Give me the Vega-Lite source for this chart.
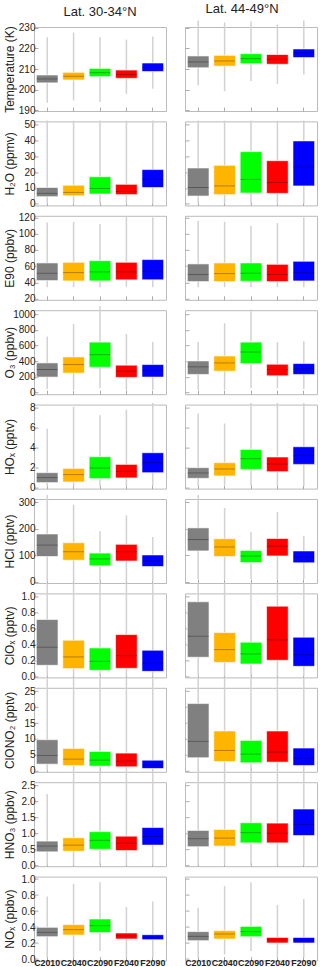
{
"$schema":"https://vega.github.io/schema/vega-lite/v6.json",
"padding":{"left":2,"top":2,"right":0,"bottom":0},
"config":{"font":"Liberation Sans","view":{"stroke":"#bbbbbb","strokeWidth":1},
"range":{"category":["#808080","#ffb400","#00ff00","#ff0000","#0000ff"]},
"axis":{"domain":false,"tickColor":"#aaaaaa","tickSize":-4,"grid":false,"labelColor":"#222222","labelFontSize":10,"labelOverlap":false,"titleColor":"#222222","titleFontSize":12,"titleFontWeight":"normal"},
"axisY":{"labelPadding":3,"titleX":-18,"titleBaseline":"bottom","labelFontSize":10,"labelOverlap":false},
"axisX":{"labelAngle":0,"labelFontWeight":"bold","labelPadding":2,"labelFontSize":8.8,"labelOverlap":false},
"title":{"fontSize":13,"fontWeight":"normal","color":"#222222","offset":4,"frame":"group"}},
"data":{"values":[
{"v":"T","lat":"S","s":"C2010","lo":193.7,"q1":203.3,"md":205.2,"q3":207.1,"hi":225.3},
{"v":"T","lat":"S","s":"C2040","lo":194.8,"q1":204.7,"md":206.5,"q3":208.4,"hi":227.6},
{"v":"T","lat":"S","s":"C2090","lo":194.1,"q1":206.3,"md":208.2,"q3":210.3,"hi":225.3},
{"v":"T","lat":"S","s":"F2040","lo":197.9,"q1":205.5,"md":207.4,"q3":209.5,"hi":224.2},
{"v":"T","lat":"S","s":"F2090","lo":200.5,"q1":208.8,"md":210.7,"q3":212.9,"hi":225.7},
{"v":"T","lat":"N","s":"C2010","lo":202,"q1":210.6,"md":213.4,"q3":216.3,"hi":233.5},
{"v":"T","lat":"N","s":"C2040","lo":199.2,"q1":211.4,"md":213.9,"q3":216.6,"hi":232.5},
{"v":"T","lat":"N","s":"C2090","lo":204.2,"q1":212.6,"md":215,"q3":217.4,"hi":233},
{"v":"T","lat":"N","s":"F2040","lo":202.8,"q1":212.3,"md":214.7,"q3":217,"hi":231.5},
{"v":"T","lat":"N","s":"F2090","lo":207.4,"q1":215.5,"md":217.8,"q3":219.7,"hi":233.5},
{"v":"W","lat":"S","s":"C2010","lo":0,"q1":4.5,"md":6.6,"q3":10.3,"hi":52.5},
{"v":"W","lat":"S","s":"C2040","lo":0,"q1":5.1,"md":7.2,"q3":11.7,"hi":52.5},
{"v":"W","lat":"S","s":"C2090","lo":0,"q1":6.2,"md":9.7,"q3":17.1,"hi":52.5},
{"v":"W","lat":"S","s":"F2040","lo":0,"q1":5.8,"md":7.8,"q3":12.3,"hi":52.5},
{"v":"W","lat":"S","s":"F2090","lo":0,"q1":10.3,"md":15.4,"q3":21.6,"hi":52.5},
{"v":"W","lat":"N","s":"C2010","lo":0,"q1":4.9,"md":10.3,"q3":22.6,"hi":52.5},
{"v":"W","lat":"N","s":"C2040","lo":0,"q1":5.8,"md":11.3,"q3":24.3,"hi":52.5},
{"v":"W","lat":"N","s":"C2090","lo":0,"q1":6.8,"md":15.4,"q3":32.9,"hi":52.5},
{"v":"W","lat":"N","s":"F2040","lo":0,"q1":6.6,"md":13.4,"q3":27.2,"hi":52.5},
{"v":"W","lat":"N","s":"F2090","lo":0,"q1":11.3,"md":23.3,"q3":39.7,"hi":52.5},
{"v":"E","lat":"S","s":"C2010","lo":34.3,"q1":42.4,"md":51.4,"q3":64.1,"hi":113.9},
{"v":"E","lat":"S","s":"C2040","lo":34.3,"q1":42,"md":52.2,"q3":64.9,"hi":114.7},
{"v":"E","lat":"S","s":"C2090","lo":34.3,"q1":42,"md":53.1,"q3":66.9,"hi":111.8},
{"v":"E","lat":"S","s":"F2040","lo":34.3,"q1":43.3,"md":53.1,"q3":64.9,"hi":121},
{"v":"E","lat":"S","s":"F2090","lo":34.3,"q1":43.3,"md":53.9,"q3":68.2,"hi":120},
{"v":"E","lat":"N","s":"C2010","lo":34.3,"q1":41.2,"md":49.8,"q3":62.9,"hi":115.9},
{"v":"E","lat":"N","s":"C2040","lo":34.3,"q1":41.2,"md":51,"q3":64.1,"hi":114.7},
{"v":"E","lat":"N","s":"C2090","lo":34.3,"q1":41.6,"md":51.4,"q3":64.1,"hi":109.8},
{"v":"E","lat":"N","s":"F2040","lo":34.3,"q1":41.2,"md":49.8,"q3":62.4,"hi":113.1},
{"v":"E","lat":"N","s":"F2090","lo":34.3,"q1":42,"md":52.2,"q3":66.1,"hi":120},
{"v":"O","lat":"S","s":"C2010","lo":46,"q1":197,"md":294,"q3":378,"hi":714},
{"v":"O","lat":"S","s":"C2040","lo":34,"q1":248,"md":357,"q3":454,"hi":874},
{"v":"O","lat":"S","s":"C2090","lo":55,"q1":323,"md":483,"q3":643,"hi":1105},
{"v":"O","lat":"S","s":"F2040","lo":25,"q1":193,"md":273,"q3":349,"hi":748},
{"v":"O","lat":"S","s":"F2090","lo":34,"q1":197,"md":286,"q3":357,"hi":643},
{"v":"O","lat":"N","s":"C2010","lo":34,"q1":231,"md":328,"q3":403,"hi":643},
{"v":"O","lat":"N","s":"C2040","lo":34,"q1":273,"md":378,"q3":466,"hi":882},
{"v":"O","lat":"N","s":"C2090","lo":55,"q1":370,"md":517,"q3":643,"hi":1060},
{"v":"O","lat":"N","s":"F2040","lo":55,"q1":214,"md":294,"q3":361,"hi":643},
{"v":"O","lat":"N","s":"F2090","lo":46,"q1":231,"md":302,"q3":370,"hi":655},
{"v":"H","lat":"S","s":"C2010","lo":0.1,"q1":0.5,"md":1.0,"q3":1.5,"hi":5.9},
{"v":"H","lat":"S","s":"C2040","lo":0.1,"q1":0.57,"md":1.3,"q3":1.93,"hi":8.1},
{"v":"H","lat":"S","s":"C2090","lo":0.1,"q1":0.9,"md":1.97,"q3":3.1,"hi":7.27},
{"v":"H","lat":"S","s":"F2040","lo":0.15,"q1":0.97,"md":1.63,"q3":2.33,"hi":7.83},
{"v":"H","lat":"S","s":"F2090","lo":0.15,"q1":1.5,"md":2.5,"q3":3.5,"hi":8.5},
{"v":"H","lat":"N","s":"C2010","lo":0.15,"q1":0.93,"md":1.47,"q3":2.0,"hi":7.43},
{"v":"H","lat":"N","s":"C2040","lo":0.15,"q1":1.17,"md":1.87,"q3":2.5,"hi":6.43},
{"v":"H","lat":"N","s":"C2090","lo":0.15,"q1":1.83,"md":2.9,"q3":3.83,"hi":8.5},
{"v":"H","lat":"N","s":"F2040","lo":0.15,"q1":1.6,"md":2.37,"q3":3.07,"hi":8.5},
{"v":"H","lat":"N","s":"F2090","lo":0.15,"q1":2.33,"md":3.23,"q3":4.1,"hi":8.5},
{"v":"C","lat":"S","s":"C2010","lo":0,"q1":95,"md":138,"q3":180,"hi":327},
{"v":"C","lat":"S","s":"C2040","lo":0,"q1":81,"md":113,"q3":147,"hi":290},
{"v":"C","lat":"S","s":"C2090","lo":0,"q1":60,"md":86,"q3":108,"hi":190},
{"v":"C","lat":"S","s":"F2040","lo":0,"q1":78,"md":113,"q3":141,"hi":250},
{"v":"C","lat":"S","s":"F2090","lo":0,"q1":57,"md":78,"q3":101,"hi":169},
{"v":"C","lat":"N","s":"C2010","lo":10,"q1":116,"md":159,"q3":203,"hi":327},
{"v":"C","lat":"N","s":"C2040","lo":10,"q1":95,"md":131,"q3":162,"hi":278},
{"v":"C","lat":"N","s":"C2090","lo":10,"q1":72,"md":97,"q3":118,"hi":187},
{"v":"C","lat":"N","s":"F2040","lo":10,"q1":97,"md":134,"q3":163,"hi":263},
{"v":"C","lat":"N","s":"F2090","lo":10,"q1":71,"md":93,"q3":116,"hi":172},
{"v":"X","lat":"S","s":"C2010","lo":0,"q1":0.139,"md":0.366,"q3":0.714,"hi":1.17},
{"v":"X","lat":"S","s":"C2040","lo":0,"q1":0.097,"md":0.244,"q3":0.454,"hi":1.17},
{"v":"X","lat":"S","s":"C2090","lo":0,"q1":0.076,"md":0.189,"q3":0.357,"hi":1.17},
{"v":"X","lat":"S","s":"F2040","lo":0,"q1":0.101,"md":0.26,"q3":0.525,"hi":1.17},
{"v":"X","lat":"S","s":"F2090","lo":0,"q1":0.063,"md":0.164,"q3":0.328,"hi":1.17},
{"v":"X","lat":"N","s":"C2010","lo":0,"q1":0.24,"md":0.504,"q3":0.937,"hi":1.17},
{"v":"X","lat":"N","s":"C2040","lo":0,"q1":0.176,"md":0.336,"q3":0.55,"hi":1.17},
{"v":"X","lat":"N","s":"C2090","lo":0,"q1":0.155,"md":0.282,"q3":0.429,"hi":1.17},
{"v":"X","lat":"N","s":"F2040","lo":0,"q1":0.202,"md":0.458,"q3":0.882,"hi":1.17},
{"v":"X","lat":"N","s":"F2090","lo":0,"q1":0.126,"md":0.273,"q3":0.492,"hi":1.17},
{"v":"N2","lat":"S","s":"C2010","lo":0,"q1":2.1,"md":4.83,"q3":9.77,"hi":29},
{"v":"N2","lat":"S","s":"C2040","lo":0,"q1":1.68,"md":3.68,"q3":7.04,"hi":29},
{"v":"N2","lat":"S","s":"C2090","lo":0,"q1":1.47,"md":3.36,"q3":6.09,"hi":29},
{"v":"N2","lat":"S","s":"F2040","lo":0,"q1":1.26,"md":3.05,"q3":5.57,"hi":29},
{"v":"N2","lat":"S","s":"F2090","lo":0,"q1":0.74,"md":1.8,"q3":3.36,"hi":29},
{"v":"N2","lat":"N","s":"C2010","lo":0,"q1":4.1,"md":9.24,"q3":21.1,"hi":29},
{"v":"N2","lat":"N","s":"C2040","lo":0,"q1":2.94,"md":6.4,"q3":12.5,"hi":29},
{"v":"N2","lat":"N","s":"C2090","lo":0,"q1":2.52,"md":5.25,"q3":9.56,"hi":29},
{"v":"N2","lat":"N","s":"F2040","lo":0,"q1":2.73,"md":5.88,"q3":12.5,"hi":29},
{"v":"N2","lat":"N","s":"F2090","lo":0,"q1":1.68,"md":4.0,"q3":7.14,"hi":29},
{"v":"HN","lat":"S","s":"C2010","lo":0,"q1":0.42,"md":0.6,"q3":0.756,"hi":2.23},
{"v":"HN","lat":"S","s":"C2040","lo":0,"q1":0.44,"md":0.63,"q3":0.86,"hi":2.95},
{"v":"HN","lat":"S","s":"C2090","lo":0,"q1":0.5,"md":0.78,"q3":1.05,"hi":2.95},
{"v":"HN","lat":"S","s":"F2040","lo":0,"q1":0.46,"md":0.69,"q3":0.91,"hi":2.95},
{"v":"HN","lat":"S","s":"F2090","lo":0,"q1":0.63,"md":0.9,"q3":1.18,"hi":2.95},
{"v":"HN","lat":"N","s":"C2010","lo":0,"q1":0.58,"md":0.83,"q3":1.09,"hi":2.95},
{"v":"HN","lat":"N","s":"C2040","lo":0,"q1":0.6,"md":0.85,"q3":1.12,"hi":2.95},
{"v":"HN","lat":"N","s":"C2090","lo":0,"q1":0.7,"md":1.02,"q3":1.33,"hi":2.95},
{"v":"HN","lat":"N","s":"F2040","lo":0,"q1":0.7,"md":1.0,"q3":1.32,"hi":2.95},
{"v":"HN","lat":"N","s":"F2090","lo":0,"q1":0.93,"md":1.28,"q3":1.76,"hi":2.95},
{"v":"NX","lat":"S","s":"C2010","lo":0.02,"q1":0.279,"md":0.333,"q3":0.396,"hi":0.78},
{"v":"NX","lat":"S","s":"C2040","lo":0.02,"q1":0.3,"md":0.367,"q3":0.43,"hi":0.94},
{"v":"NX","lat":"S","s":"C2090","lo":0.1,"q1":0.33,"md":0.417,"q3":0.5,"hi":0.96},
{"v":"NX","lat":"S","s":"F2040","lo":0.02,"q1":0.25,"md":0.29,"q3":0.325,"hi":0.65},
{"v":"NX","lat":"S","s":"F2090","lo":0.02,"q1":0.242,"md":0.27,"q3":0.304,"hi":0.72},
{"v":"NX","lat":"N","s":"C2010","lo":0.02,"q1":0.229,"md":0.283,"q3":0.342,"hi":0.64},
{"v":"NX","lat":"N","s":"C2040","lo":0.06,"q1":0.25,"md":0.313,"q3":0.354,"hi":0.91},
{"v":"NX","lat":"N","s":"C2090","lo":0.1,"q1":0.279,"md":0.342,"q3":0.408,"hi":0.96},
{"v":"NX","lat":"N","s":"F2040","lo":0.02,"q1":0.2,"md":0.24,"q3":0.27,"hi":0.675},
{"v":"NX","lat":"N","s":"F2090","lo":0.02,"q1":0.2,"md":0.24,"q3":0.27,"hi":0.75}
]},
"columns":2,
"spacing":{"row":10.4,"column":19},
"bounds":"flush",
"concat":[
{"title":{"text":"Lat. 30-34°N"},"width":132,"height":84,"transform":[{"filter":"datum.v=='T'&&datum.lat=='S'"}],"encoding":{"x":{"field":"s","type":"nominal","scale":{"paddingInner":0.18,"paddingOuter":0.09},"axis":{"labels":false,"title":null}}},"layer":[
{"mark":{"type":"rule","color":"#d2d2d2","strokeWidth":1.5},"encoding":{"y":{"field":"lo","type":"quantitative","scale":{"domain":[189.7,230.3],"nice":false,"zero":false},"axis":{"title":"Temperature (K)","format":"d","tickCount":20,"values":[190,200,210,220,230]}},"y2":{"field":"hi"}}},
{"mark":{"type":"bar","stroke":"white","strokeOpacity":0.6,"strokeWidth":1},"encoding":{"y":{"field":"q1","type":"quantitative"},"y2":{"field":"q3"},"color":{"field":"s","type":"nominal","legend":null}}},
{"mark":{"type":"tick","color":"black","opacity":0.3,"size":21,"thickness":1},"encoding":{"y":{"field":"md","type":"quantitative"}}}]},
{"title":{"text":"Lat. 44-49°N","dx":-9},"width":132,"height":84,"transform":[{"filter":"datum.v=='T'&&datum.lat=='N'"}],"encoding":{"x":{"field":"s","type":"nominal","scale":{"paddingInner":0.18,"paddingOuter":0.09},"axis":{"labels":false,"title":null}}},"layer":[
{"mark":{"type":"rule","color":"#d2d2d2","strokeWidth":1.5},"encoding":{"y":{"field":"lo","type":"quantitative","scale":{"domain":[189.7,230.3],"nice":false,"zero":false},"axis":{"title":null,"labels":false,"tickCount":20,"values":[190,200,210,220,230]}},"y2":{"field":"hi"}}},
{"mark":{"type":"bar","stroke":"white","strokeOpacity":0.6,"strokeWidth":1},"encoding":{"y":{"field":"q1","type":"quantitative"},"y2":{"field":"q3"},"color":{"field":"s","type":"nominal","legend":null}}},
{"mark":{"type":"tick","color":"black","opacity":0.3,"size":21,"thickness":1},"encoding":{"y":{"field":"md","type":"quantitative"}}}]},
{"width":132,"height":84,"transform":[{"filter":"datum.v=='W'&&datum.lat=='S'"}],"encoding":{"x":{"field":"s","type":"nominal","scale":{"paddingInner":0.18,"paddingOuter":0.09},"axis":{"labels":false,"title":null}}},"layer":[
{"mark":{"type":"rule","color":"#d2d2d2","strokeWidth":1.5},"encoding":{"y":{"field":"lo","type":"quantitative","scale":{"domain":[-1,52],"nice":false,"zero":false},"axis":{"title":"H₂O (ppmv)","format":"d","tickCount":20,"values":[0,10,20,30,40,50]}},"y2":{"field":"hi"}}},
{"mark":{"type":"bar","stroke":"white","strokeOpacity":0.6,"strokeWidth":1},"encoding":{"y":{"field":"q1","type":"quantitative"},"y2":{"field":"q3"},"color":{"field":"s","type":"nominal","legend":null}}},
{"mark":{"type":"tick","color":"black","opacity":0.3,"size":21,"thickness":1},"encoding":{"y":{"field":"md","type":"quantitative"}}}]},
{"width":132,"height":84,"transform":[{"filter":"datum.v=='W'&&datum.lat=='N'"}],"encoding":{"x":{"field":"s","type":"nominal","scale":{"paddingInner":0.18,"paddingOuter":0.09},"axis":{"labels":false,"title":null}}},"layer":[
{"mark":{"type":"rule","color":"#d2d2d2","strokeWidth":1.5},"encoding":{"y":{"field":"lo","type":"quantitative","scale":{"domain":[-1,52],"nice":false,"zero":false},"axis":{"title":null,"labels":false,"tickCount":20,"values":[0,10,20,30,40,50]}},"y2":{"field":"hi"}}},
{"mark":{"type":"bar","stroke":"white","strokeOpacity":0.6,"strokeWidth":1},"encoding":{"y":{"field":"q1","type":"quantitative"},"y2":{"field":"q3"},"color":{"field":"s","type":"nominal","legend":null}}},
{"mark":{"type":"tick","color":"black","opacity":0.3,"size":21,"thickness":1},"encoding":{"y":{"field":"md","type":"quantitative"}}}]},
{"width":132,"height":84,"transform":[{"filter":"datum.v=='E'&&datum.lat=='S'"}],"encoding":{"x":{"field":"s","type":"nominal","scale":{"paddingInner":0.18,"paddingOuter":0.09},"axis":{"labels":false,"title":null}}},"layer":[
{"mark":{"type":"rule","color":"#d2d2d2","strokeWidth":1.5},"encoding":{"y":{"field":"lo","type":"quantitative","scale":{"domain":[18.8,122],"nice":false,"zero":false},"axis":{"title":"E90 (ppbv)","format":"d","tickCount":20,"values":[20,40,60,80,100,120]}},"y2":{"field":"hi"}}},
{"mark":{"type":"bar","stroke":"white","strokeOpacity":0.6,"strokeWidth":1},"encoding":{"y":{"field":"q1","type":"quantitative"},"y2":{"field":"q3"},"color":{"field":"s","type":"nominal","legend":null}}},
{"mark":{"type":"tick","color":"black","opacity":0.3,"size":21,"thickness":1},"encoding":{"y":{"field":"md","type":"quantitative"}}}]},
{"width":132,"height":84,"transform":[{"filter":"datum.v=='E'&&datum.lat=='N'"}],"encoding":{"x":{"field":"s","type":"nominal","scale":{"paddingInner":0.18,"paddingOuter":0.09},"axis":{"labels":false,"title":null}}},"layer":[
{"mark":{"type":"rule","color":"#d2d2d2","strokeWidth":1.5},"encoding":{"y":{"field":"lo","type":"quantitative","scale":{"domain":[18.8,122],"nice":false,"zero":false},"axis":{"title":null,"labels":false,"tickCount":20,"values":[20,40,60,80,100,120]}},"y2":{"field":"hi"}}},
{"mark":{"type":"bar","stroke":"white","strokeOpacity":0.6,"strokeWidth":1},"encoding":{"y":{"field":"q1","type":"quantitative"},"y2":{"field":"q3"},"color":{"field":"s","type":"nominal","legend":null}}},
{"mark":{"type":"tick","color":"black","opacity":0.3,"size":21,"thickness":1},"encoding":{"y":{"field":"md","type":"quantitative"}}}]},
{"width":132,"height":84,"transform":[{"filter":"datum.v=='O'&&datum.lat=='S'"}],"encoding":{"x":{"field":"s","type":"nominal","scale":{"paddingInner":0.18,"paddingOuter":0.09},"axis":{"labels":false,"title":null}}},"layer":[
{"mark":{"type":"rule","color":"#d2d2d2","strokeWidth":1.5},"encoding":{"y":{"field":"lo","type":"quantitative","scale":{"domain":[-21,1050],"nice":false,"zero":false},"axis":{"title":"O₃ (ppbv)","format":"d","tickCount":20,"values":[0,200,400,600,800,1000]}},"y2":{"field":"hi"}}},
{"mark":{"type":"bar","stroke":"white","strokeOpacity":0.6,"strokeWidth":1},"encoding":{"y":{"field":"q1","type":"quantitative"},"y2":{"field":"q3"},"color":{"field":"s","type":"nominal","legend":null}}},
{"mark":{"type":"tick","color":"black","opacity":0.3,"size":21,"thickness":1},"encoding":{"y":{"field":"md","type":"quantitative"}}}]},
{"width":132,"height":84,"transform":[{"filter":"datum.v=='O'&&datum.lat=='N'"}],"encoding":{"x":{"field":"s","type":"nominal","scale":{"paddingInner":0.18,"paddingOuter":0.09},"axis":{"labels":false,"title":null}}},"layer":[
{"mark":{"type":"rule","color":"#d2d2d2","strokeWidth":1.5},"encoding":{"y":{"field":"lo","type":"quantitative","scale":{"domain":[-21,1050],"nice":false,"zero":false},"axis":{"title":null,"labels":false,"tickCount":20,"values":[0,200,400,600,800,1000]}},"y2":{"field":"hi"}}},
{"mark":{"type":"bar","stroke":"white","strokeOpacity":0.6,"strokeWidth":1},"encoding":{"y":{"field":"q1","type":"quantitative"},"y2":{"field":"q3"},"color":{"field":"s","type":"nominal","legend":null}}},
{"mark":{"type":"tick","color":"black","opacity":0.3,"size":21,"thickness":1},"encoding":{"y":{"field":"md","type":"quantitative"}}}]},
{"width":132,"height":84,"transform":[{"filter":"datum.v=='H'&&datum.lat=='S'"}],"encoding":{"x":{"field":"s","type":"nominal","scale":{"paddingInner":0.18,"paddingOuter":0.09},"axis":{"labels":false,"title":null}}},"layer":[
{"mark":{"type":"rule","color":"#d2d2d2","strokeWidth":1.5},"encoding":{"y":{"field":"lo","type":"quantitative","scale":{"domain":[-0.1,8.33],"nice":false,"zero":false},"axis":{"title":"HOₓ (pptv)","format":"d","tickCount":20,"values":[0,2,4,6,8]}},"y2":{"field":"hi"}}},
{"mark":{"type":"bar","stroke":"white","strokeOpacity":0.6,"strokeWidth":1},"encoding":{"y":{"field":"q1","type":"quantitative"},"y2":{"field":"q3"},"color":{"field":"s","type":"nominal","legend":null}}},
{"mark":{"type":"tick","color":"black","opacity":0.3,"size":21,"thickness":1},"encoding":{"y":{"field":"md","type":"quantitative"}}}]},
{"width":132,"height":84,"transform":[{"filter":"datum.v=='H'&&datum.lat=='N'"}],"encoding":{"x":{"field":"s","type":"nominal","scale":{"paddingInner":0.18,"paddingOuter":0.09},"axis":{"labels":false,"title":null}}},"layer":[
{"mark":{"type":"rule","color":"#d2d2d2","strokeWidth":1.5},"encoding":{"y":{"field":"lo","type":"quantitative","scale":{"domain":[-0.1,8.33],"nice":false,"zero":false},"axis":{"title":null,"labels":false,"tickCount":20,"values":[0,2,4,6,8]}},"y2":{"field":"hi"}}},
{"mark":{"type":"bar","stroke":"white","strokeOpacity":0.6,"strokeWidth":1},"encoding":{"y":{"field":"q1","type":"quantitative"},"y2":{"field":"q3"},"color":{"field":"s","type":"nominal","legend":null}}},
{"mark":{"type":"tick","color":"black","opacity":0.3,"size":21,"thickness":1},"encoding":{"y":{"field":"md","type":"quantitative"}}}]},
{"width":132,"height":84,"transform":[{"filter":"datum.v=='C'&&datum.lat=='S'"}],"encoding":{"x":{"field":"s","type":"nominal","scale":{"paddingInner":0.18,"paddingOuter":0.09},"axis":{"labels":false,"title":null}}},"layer":[
{"mark":{"type":"rule","color":"#d2d2d2","strokeWidth":1.5},"encoding":{"y":{"field":"lo","type":"quantitative","scale":{"domain":[-5,312],"nice":false,"zero":false},"axis":{"title":"HCl (pptv)","format":"d","tickCount":20,"values":[0,100,200,300]}},"y2":{"field":"hi"}}},
{"mark":{"type":"bar","stroke":"white","strokeOpacity":0.6,"strokeWidth":1},"encoding":{"y":{"field":"q1","type":"quantitative"},"y2":{"field":"q3"},"color":{"field":"s","type":"nominal","legend":null}}},
{"mark":{"type":"tick","color":"black","opacity":0.3,"size":21,"thickness":1},"encoding":{"y":{"field":"md","type":"quantitative"}}}]},
{"width":132,"height":84,"transform":[{"filter":"datum.v=='C'&&datum.lat=='N'"}],"encoding":{"x":{"field":"s","type":"nominal","scale":{"paddingInner":0.18,"paddingOuter":0.09},"axis":{"labels":false,"title":null}}},"layer":[
{"mark":{"type":"rule","color":"#d2d2d2","strokeWidth":1.5},"encoding":{"y":{"field":"lo","type":"quantitative","scale":{"domain":[-5,312],"nice":false,"zero":false},"axis":{"title":null,"labels":false,"tickCount":20,"values":[0,100,200,300]}},"y2":{"field":"hi"}}},
{"mark":{"type":"bar","stroke":"white","strokeOpacity":0.6,"strokeWidth":1},"encoding":{"y":{"field":"q1","type":"quantitative"},"y2":{"field":"q3"},"color":{"field":"s","type":"nominal","legend":null}}},
{"mark":{"type":"tick","color":"black","opacity":0.3,"size":21,"thickness":1},"encoding":{"y":{"field":"md","type":"quantitative"}}}]},
{"width":132,"height":84,"transform":[{"filter":"datum.v=='X'&&datum.lat=='S'"}],"encoding":{"x":{"field":"s","type":"nominal","scale":{"paddingInner":0.18,"paddingOuter":0.09},"axis":{"labels":false,"title":null}}},"layer":[
{"mark":{"type":"rule","color":"#d2d2d2","strokeWidth":1.5},"encoding":{"y":{"field":"lo","type":"quantitative","scale":{"domain":[-0.013,1.042],"nice":false,"zero":false},"axis":{"title":"ClOₓ (pptv)","tickCount":20,"format":".1f","values":[0,0.2,0.4,0.6,0.8,1.0]}},"y2":{"field":"hi"}}},
{"mark":{"type":"bar","stroke":"white","strokeOpacity":0.6,"strokeWidth":1},"encoding":{"y":{"field":"q1","type":"quantitative"},"y2":{"field":"q3"},"color":{"field":"s","type":"nominal","legend":null}}},
{"mark":{"type":"tick","color":"black","opacity":0.3,"size":21,"thickness":1},"encoding":{"y":{"field":"md","type":"quantitative"}}}]},
{"width":132,"height":84,"transform":[{"filter":"datum.v=='X'&&datum.lat=='N'"}],"encoding":{"x":{"field":"s","type":"nominal","scale":{"paddingInner":0.18,"paddingOuter":0.09},"axis":{"labels":false,"title":null}}},"layer":[
{"mark":{"type":"rule","color":"#d2d2d2","strokeWidth":1.5},"encoding":{"y":{"field":"lo","type":"quantitative","scale":{"domain":[-0.013,1.042],"nice":false,"zero":false},"axis":{"title":null,"labels":false,"tickCount":20,"values":[0,0.2,0.4,0.6,0.8,1.0]}},"y2":{"field":"hi"}}},
{"mark":{"type":"bar","stroke":"white","strokeOpacity":0.6,"strokeWidth":1},"encoding":{"y":{"field":"q1","type":"quantitative"},"y2":{"field":"q3"},"color":{"field":"s","type":"nominal","legend":null}}},
{"mark":{"type":"tick","color":"black","opacity":0.3,"size":21,"thickness":1},"encoding":{"y":{"field":"md","type":"quantitative"}}}]},
{"width":132,"height":84,"transform":[{"filter":"datum.v=='N2'&&datum.lat=='S'"}],"encoding":{"x":{"field":"s","type":"nominal","scale":{"paddingInner":0.18,"paddingOuter":0.09},"axis":{"labels":false,"title":null}}},"layer":[
{"mark":{"type":"rule","color":"#d2d2d2","strokeWidth":1.5},"encoding":{"y":{"field":"lo","type":"quantitative","scale":{"domain":[-0.3,26.05],"nice":false,"zero":false},"axis":{"title":"ClONO₂ (pptv)","format":"d","tickCount":20,"values":[0,5,10,15,20,25]}},"y2":{"field":"hi"}}},
{"mark":{"type":"bar","stroke":"white","strokeOpacity":0.6,"strokeWidth":1},"encoding":{"y":{"field":"q1","type":"quantitative"},"y2":{"field":"q3"},"color":{"field":"s","type":"nominal","legend":null}}},
{"mark":{"type":"tick","color":"black","opacity":0.3,"size":21,"thickness":1},"encoding":{"y":{"field":"md","type":"quantitative"}}}]},
{"width":132,"height":84,"transform":[{"filter":"datum.v=='N2'&&datum.lat=='N'"}],"encoding":{"x":{"field":"s","type":"nominal","scale":{"paddingInner":0.18,"paddingOuter":0.09},"axis":{"labels":false,"title":null}}},"layer":[
{"mark":{"type":"rule","color":"#d2d2d2","strokeWidth":1.5},"encoding":{"y":{"field":"lo","type":"quantitative","scale":{"domain":[-0.3,26.05],"nice":false,"zero":false},"axis":{"title":null,"labels":false,"tickCount":20,"values":[0,5,10,15,20,25]}},"y2":{"field":"hi"}}},
{"mark":{"type":"bar","stroke":"white","strokeOpacity":0.6,"strokeWidth":1},"encoding":{"y":{"field":"q1","type":"quantitative"},"y2":{"field":"q3"},"color":{"field":"s","type":"nominal","legend":null}}},
{"mark":{"type":"tick","color":"black","opacity":0.3,"size":21,"thickness":1},"encoding":{"y":{"field":"md","type":"quantitative"}}}]},
{"width":132,"height":84,"transform":[{"filter":"datum.v=='HN'&&datum.lat=='S'"}],"encoding":{"x":{"field":"s","type":"nominal","scale":{"paddingInner":0.18,"paddingOuter":0.09},"axis":{"labels":false,"title":null}}},"layer":[
{"mark":{"type":"rule","color":"#d2d2d2","strokeWidth":1.5},"encoding":{"y":{"field":"lo","type":"quantitative","scale":{"domain":[-0.03,2.6],"nice":false,"zero":false},"axis":{"title":"HNO₃ (ppbv)","tickCount":20,"format":".1f","values":[0,0.5,1.0,1.5,2.0,2.5]}},"y2":{"field":"hi"}}},
{"mark":{"type":"bar","stroke":"white","strokeOpacity":0.6,"strokeWidth":1},"encoding":{"y":{"field":"q1","type":"quantitative"},"y2":{"field":"q3"},"color":{"field":"s","type":"nominal","legend":null}}},
{"mark":{"type":"tick","color":"black","opacity":0.3,"size":21,"thickness":1},"encoding":{"y":{"field":"md","type":"quantitative"}}}]},
{"width":132,"height":84,"transform":[{"filter":"datum.v=='HN'&&datum.lat=='N'"}],"encoding":{"x":{"field":"s","type":"nominal","scale":{"paddingInner":0.18,"paddingOuter":0.09},"axis":{"labels":false,"title":null}}},"layer":[
{"mark":{"type":"rule","color":"#d2d2d2","strokeWidth":1.5},"encoding":{"y":{"field":"lo","type":"quantitative","scale":{"domain":[-0.03,2.6],"nice":false,"zero":false},"axis":{"title":null,"labels":false,"tickCount":20,"values":[0,0.5,1.0,1.5,2.0,2.5]}},"y2":{"field":"hi"}}},
{"mark":{"type":"bar","stroke":"white","strokeOpacity":0.6,"strokeWidth":1},"encoding":{"y":{"field":"q1","type":"quantitative"},"y2":{"field":"q3"},"color":{"field":"s","type":"nominal","legend":null}}},
{"mark":{"type":"tick","color":"black","opacity":0.3,"size":21,"thickness":1},"encoding":{"y":{"field":"md","type":"quantitative"}}}]},
{"width":132,"height":84,"transform":[{"filter":"datum.v=='NX'&&datum.lat=='S'"}],"encoding":{"x":{"field":"s","type":"nominal","scale":{"paddingInner":0.18,"paddingOuter":0.09},"axis":{"title":null}}},"layer":[
{"mark":{"type":"rule","color":"#d2d2d2","strokeWidth":1.5},"encoding":{"y":{"field":"lo","type":"quantitative","scale":{"domain":[-0.02,1.03],"nice":false,"zero":false},"axis":{"title":"NOₓ (ppbv)","tickCount":20,"format":".1f","values":[0,0.2,0.4,0.6,0.8,1.0]}},"y2":{"field":"hi"}}},
{"mark":{"type":"bar","stroke":"white","strokeOpacity":0.6,"strokeWidth":1},"encoding":{"y":{"field":"q1","type":"quantitative"},"y2":{"field":"q3"},"color":{"field":"s","type":"nominal","legend":null}}},
{"mark":{"type":"tick","color":"black","opacity":0.3,"size":21,"thickness":1},"encoding":{"y":{"field":"md","type":"quantitative"}}}]},
{"width":132,"height":84,"transform":[{"filter":"datum.v=='NX'&&datum.lat=='N'"}],"encoding":{"x":{"field":"s","type":"nominal","scale":{"paddingInner":0.18,"paddingOuter":0.09},"axis":{"title":null}}},"layer":[
{"mark":{"type":"rule","color":"#d2d2d2","strokeWidth":1.5},"encoding":{"y":{"field":"lo","type":"quantitative","scale":{"domain":[-0.02,1.03],"nice":false,"zero":false},"axis":{"title":null,"labels":false,"tickCount":20,"values":[0,0.2,0.4,0.6,0.8,1.0]}},"y2":{"field":"hi"}}},
{"mark":{"type":"bar","stroke":"white","strokeOpacity":0.6,"strokeWidth":1},"encoding":{"y":{"field":"q1","type":"quantitative"},"y2":{"field":"q3"},"color":{"field":"s","type":"nominal","legend":null}}},
{"mark":{"type":"tick","color":"black","opacity":0.3,"size":21,"thickness":1},"encoding":{"y":{"field":"md","type":"quantitative"}}}]}
]
}
